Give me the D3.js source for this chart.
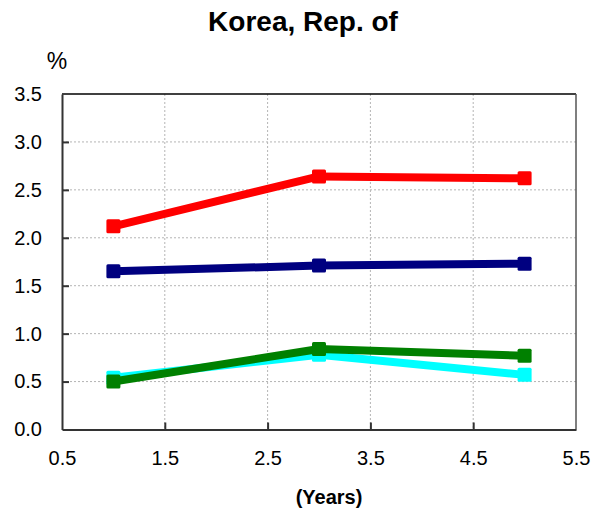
<!DOCTYPE html>
<html>
<head>
<meta charset="utf-8">
<script src="https://cdn.jsdelivr.net/npm/d3@7"></script>
<style>
  body { margin: 0; background: #fff; }
  svg { display: block; font-family: "Liberation Sans", Arial, sans-serif; }
</style>
</head>
<body>
<svg id="chart" width="593" height="512"></svg>
<script>
// Maturities (years) and yields (%) for each series
const years = [1, 3, 5];
const seriesCyan  = [0.54, 0.78, 0.57];
const seriesGreen = [0.50, 0.84, 0.77];
const seriesNavy  = [1.65, 1.71, 1.73];
const seriesRed   = [2.12, 2.64, 2.62];
const xTicks = [0.5, 1.5, 2.5, 3.5, 4.5, 5.5];
const yTicks = [0, 0.5, 1.0, 1.5, 2.0, 2.5, 3.0, 3.5];

const series = [
  { values: seriesCyan,  color: "#00ffff" },
  { values: seriesGreen, color: "#008000" },
  { values: seriesNavy,  color: "#000080" },
  { values: seriesRed,   color: "#ff0000" }
];

const svg = d3.select("#chart");
const plotLeft = 62, plotRight = 576, plotTop = 94, plotBottom = 429.5;

const x = d3.scaleLinear().domain([0.5, 5.5]).range([plotLeft, plotRight]);
const y = d3.scaleLinear().domain([0, 3.5]).range([plotBottom, plotTop]);

// grid
const grid = svg.append("g");
grid.selectAll(".gy").data(yTicks.slice(1, -1)).join("line")
  .attr("x1", plotLeft).attr("x2", plotRight)
  .attr("y1", d => y(d)).attr("y2", d => y(d))
  .attr("stroke", "#b4b4b4").attr("stroke-width", 1).attr("stroke-dasharray", "2,2");
grid.selectAll(".gx").data(xTicks.slice(1, -1)).join("line")
  .attr("y1", plotTop).attr("y2", plotBottom)
  .attr("x1", d => x(d)).attr("x2", d => x(d))
  .attr("stroke", "#b4b4b4").attr("stroke-width", 1).attr("stroke-dasharray", "2,2");

// frame
svg.append("line").attr("x1", plotLeft).attr("x2", plotRight).attr("y1", plotTop).attr("y2", plotTop)
  .attr("stroke", "#000").attr("stroke-width", 1.5);
svg.append("line").attr("x1", plotRight).attr("x2", plotRight).attr("y1", plotTop).attr("y2", plotBottom)
  .attr("stroke", "#555").attr("stroke-width", 1.5);

// axes with inward ticks
const yAxis = d3.axisLeft(y).tickValues(yTicks).tickFormat(d3.format(".1f"))
  .tickSizeInner(-7).tickSizeOuter(0).tickPadding(20);
const gy = svg.append("g").attr("transform", `translate(${plotLeft},0)`).call(yAxis);
const xAxis = d3.axisBottom(x).tickValues(xTicks).tickFormat(d3.format(".1f"))
  .tickSizeInner(-7).tickSizeOuter(0).tickPadding(21);
const gx = svg.append("g").attr("transform", `translate(0,${plotBottom})`).call(xAxis);

[gx, gy].forEach(g => {
  g.select(".domain").attr("stroke", "#333").attr("stroke-width", 2);
  g.selectAll(".tick line").attr("stroke", "#333").attr("stroke-width", 2);
  g.selectAll(".tick text").attr("fill", "#000").style("font-size", "20px")
    .style("font-family", "'Liberation Sans', Arial, sans-serif");
});
gx.selectAll(".tick line").filter(d => d === 0.5 || d === 5.5).remove();
gy.selectAll(".tick line").filter(d => d === 0 || d === 3.5).remove();

// lines and square markers
const line = d3.line().x((d, i) => x(years[i])).y(d => y(d));
series.forEach(s => {
  const g = svg.append("g");
  g.append("path").datum(s.values).attr("d", line)
    .attr("fill", "none").attr("stroke", s.color).attr("stroke-width", 8)
    .attr("stroke-linejoin", "round");
  g.selectAll("rect").data(s.values).join("rect")
    .attr("x", (d, i) => x(years[i]) - 7).attr("y", d => y(d) - 7)
    .attr("width", 14).attr("height", 14).attr("rx", 1.5)
    .attr("fill", s.color);
});

// titles
svg.append("text").attr("x", 303).attr("y", 31).attr("text-anchor", "middle")
  .style("font-size", "28px").style("font-weight", "bold").text("Korea, Rep. of");
svg.append("text").attr("x", 57).attr("y", 69).attr("text-anchor", "middle")
  .style("font-size", "23px").text("%");
svg.append("text").attr("x", 329).attr("y", 504).attr("text-anchor", "middle")
  .style("font-size", "20px").style("font-weight", "bold").text("(Years)");
</script>
</body>
</html>
